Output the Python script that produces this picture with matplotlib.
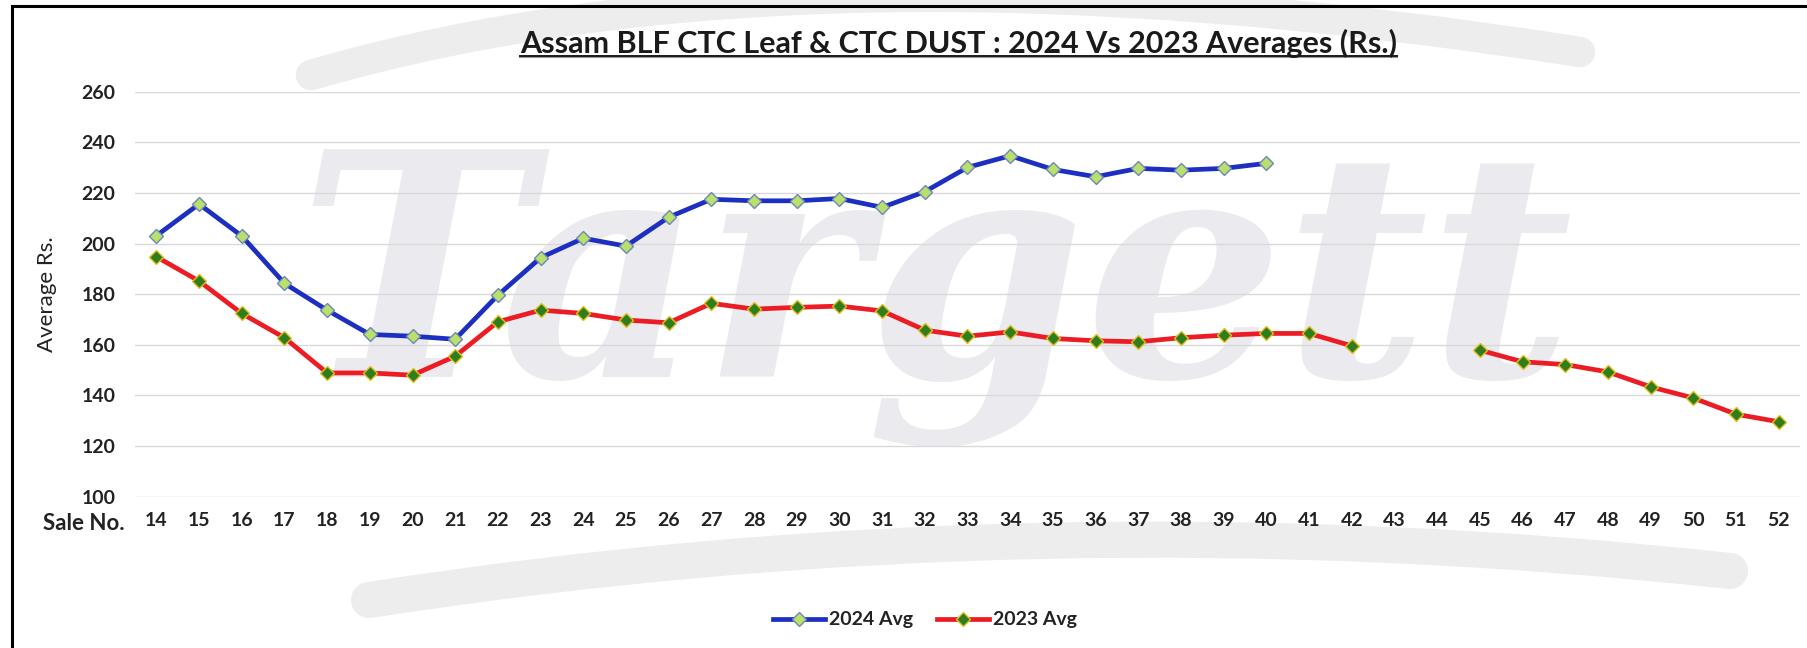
import numpy as np
import matplotlib
matplotlib.use("Agg")
import matplotlib.pyplot as plt
from matplotlib.lines import Line2D
from matplotlib.patches import Rectangle, PathPatch
from matplotlib.path import Path

# ---------------- data ----------------
sale_no = [14, 15, 16, 17, 18, 19, 20, 21, 22, 23, 24, 25, 26, 27, 28, 29, 30,
           31, 32, 33, 34, 35, 36, 37, 38, 39, 40, 41, 42, 43, 44, 45, 46, 47,
           48, 49, 50, 51, 52]
nan = np.nan
avg_2024 = [203.1, 215.6, 203.0, 184.3, 173.7, 164.1, 163.4, 162.2, 179.6, 194.4,
            202.1, 199.0, 210.4, 217.5, 216.9, 216.9, 217.8, 214.3, 220.5, 230.1,
            234.7, 229.3, 226.4, 229.7, 229.0, 229.7, 231.7,
            nan, nan, nan, nan, nan, nan, nan, nan, nan, nan, nan, nan]
avg_2023 = [194.8, 185.2, 172.4, 162.8, 148.9, 148.9, 148.0, 155.5, 169.1, 173.7,
            172.4, 169.8, 168.7, 176.4, 174.1, 174.8, 175.3, 173.4, 165.8, 163.4,
            165.1, 162.5, 161.6, 161.2, 162.8, 163.8, 164.5, 164.5, 159.6,
            nan, nan, 157.9, 153.3, 152.2, 149.3, 143.4, 139.0, 132.6, 129.6]
y_ticks = [100, 120, 140, 160, 180, 200, 220, 240, 260]
title = "Assam BLF CTC Leaf & CTC DUST : 2024 Vs 2023 Averages (Rs.)"
series_names = ["2024 Avg", "2023 Avg"]

# ---------------- figure ----------------
W, H, DPI = 1808, 648, 100
plt.rcParams['font.family'] = ['Lato', 'DejaVu Sans']
fig = plt.figure(figsize=(W / DPI, H / DPI), dpi=DPI)
fig.patch.set_facecolor('white')


def fx(px):
    return px / W


def fy(py):
    return 1 - py / H


# watermark swooshes (decoration)
for pts, lw in [([(311, 75), (807, -69), (1580, 52)], 22),
                ([(369, 600), (1038, 496), (1730, 571)], 26)]:
    verts = [(fx(x), fy(y)) for x, y in pts]
    pp = PathPatch(Path(verts, [Path.MOVETO, Path.CURVE3, Path.CURVE3]),
                   transform=fig.transFigure, fill=False, edgecolor='#ededed',
                   linewidth=lw, capstyle='round', zorder=-2)
    fig.add_artist(pp)

# watermark text
fig.text(fx(935), fy(377), "Targett", fontsize=225, color='#ebebef',
         family=['DejaVu Serif'], weight='bold', style='italic',
         ha='center', va='baseline', zorder=-1)

# outer frame (left and top edges visible)
fig.add_artist(Rectangle((fx(12), -0.05), 1.2, fy(6) + 0.05,
                         transform=fig.transFigure, fill=False,
                         edgecolor='black', linewidth=2.2, zorder=5))

ax = fig.add_axes([fx(135), fy(496.7), (1800 - 135) / W, (496.7 - 91.7) / H])
ax.set_facecolor('none')
ax.set_zorder(1)

ax.plot(sale_no, avg_2024, color='#1c2fc0', linewidth=3.4, marker='D',
        markersize=7, markerfacecolor='#b8e06a', markeredgecolor='#6f86b8',
        markeredgewidth=1.0, label=series_names[0], zorder=4)
ax.plot(sale_no, avg_2023, color='#ec1c24', linewidth=3.4, marker='D',
        markersize=7, markerfacecolor='#2f7d1c', markeredgecolor='#e0c020',
        markeredgewidth=1.0, label=series_names[1], zorder=3)

ax.set_xlim(sale_no[0] - 0.5, sale_no[-1] + 0.5)
ax.set_ylim(y_ticks[0], y_ticks[-1])
ax.set_yticks(y_ticks)
ax.set_xticks(sale_no)
ax.set_xticklabels([str(s) for s in sale_no])
ax.grid(axis='y', color='#d9d9d9', linewidth=1.0, zorder=1)
ax.grid(axis='x', visible=False)
for sp in ax.spines.values():
    sp.set_visible(False)
ax.tick_params(axis='both', length=0, labelsize=14, colors='#222222')
ax.tick_params(axis='y', pad=14)
ax.tick_params(axis='x', pad=11)
for lab in ax.get_xticklabels() + ax.get_yticklabels():
    lab.set_fontweight('bold')

ax.set_ylabel("Average Rs.", fontsize=16, color='#222222')
ax.yaxis.set_label_coords(-(135 - 57) / (1800 - 135), 0.5)

fig.text(fx(125), fy(523), "Sale No.", fontsize=16, weight='bold',
         color='#222222', ha='right', va='center')

t = fig.text(fx(959), fy(43), title, fontsize=22, weight='bold',
             color='#1a1a1a', ha='center', va='center')

leg = fig.legend(loc='center', bbox_to_anchor=(fx(925), fy(620)), ncol=2,
                 frameon=False, fontsize=14, handlelength=2.7,
                 columnspacing=1.2, handletextpad=0.2, borderaxespad=0)
for txt in leg.get_texts():
    txt.set_fontweight('bold')
    txt.set_color('#222222')

# underline for title
fig.canvas.draw()
bb = t.get_window_extent(renderer=fig.canvas.get_renderer())
uy = bb.y0 + 2
fig.add_artist(Line2D([bb.x0 / W, bb.x1 / W], [(uy - 1.6) / H, (uy - 1.6) / H],
                      transform=fig.transFigure, color='#9a9a9a', linewidth=1.5))
fig.add_artist(Line2D([bb.x0 / W, bb.x1 / W], [uy / H, uy / H],
                      transform=fig.transFigure, color='#1a1a1a', linewidth=1.4))

fig.savefig("out.png", dpi=DPI, facecolor='white')
